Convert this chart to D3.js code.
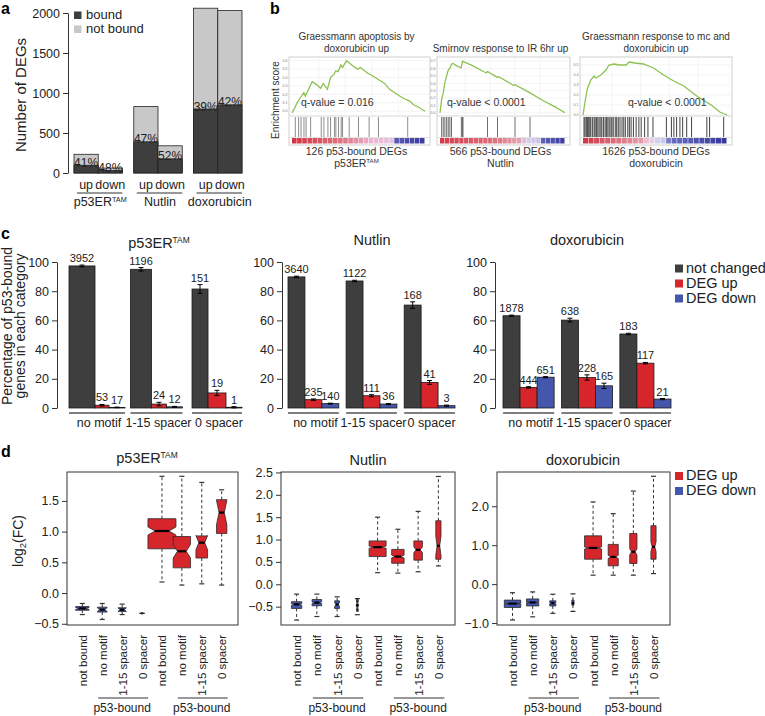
<!DOCTYPE html>
<html>
<head>
<meta charset="utf-8">
<script src="https://cdn.jsdelivr.net/npm/d3@7/dist/d3.min.js"></script>
<style>
html,body{margin:0;padding:0;background:#fff;}
svg{display:block;}
</style>
</head>
<body>
<svg id="fig" width="765" height="716"></svg>
<script>
// ================= DATA =================
// ---- Panel a ----
const aTreatments = ["p53ER", "Nutlin", "doxorubicin"];
const aDirections = ["up", "down"];
const aTotalDEGs = [234, 62, 830, 340, 2060, 2030];
const aBoundDEGs = [96, 30, 390, 177, 800, 852];
const aPctLabels = ["41%", "48%", "47%", "52%", "39%", "42%"];
const aTicks = [0, 500, 1000, 1500, 2000];
const aLegend = ["bound", "not bound"];

// ---- Panel b ----
const bTitles = [["Graessmann apoptosis by", "doxorubicin up"], ["Smirnov response to IR 6hr up"], ["Graessmann response to mc and", "doxorubicin up"]];
const bCaptionTop = ["126 p53-bound DEGs", "566 p53-bound DEGs", "1626 p53-bound DEGs"];
const bCaptionBottom = ["p53ER", "Nutlin", "doxorubicin"];
const bQValues = ["q-value = 0.016", "q-value < 0.0001", "q-value < 0.0001"];
const bEsTicks1 = [0, 0.1, 0.2, 0.3, 0.4, 0.5, 0.6];
const bEsTicks2 = [0, 0.1, 0.2, 0.3, 0.4, 0.5, 0.6, 0.7];
const bEsTicks3 = [0, 0.1, 0.2, 0.3, 0.4, 0.5];
const bEs1 = [[0,-0.02],[0.018,0.03],[0.038,0.10],[0.063,0.16],[0.089,0.22],[0.10,0.18],[0.127,0.27],[0.152,0.35],[0.19,0.31],[0.215,0.27],[0.235,0.33],[0.266,0.26],[0.29,0.40],[0.316,0.44],[0.33,0.48],[0.347,0.47],[0.367,0.55],[0.38,0.52],[0.41,0.60],[0.456,0.54],[0.494,0.50],[0.514,0.52],[0.57,0.45],[0.595,0.43],[0.646,0.38],[0.696,0.33],[0.734,0.26],[0.772,0.22],[0.81,0.18],[0.848,0.145],[0.886,0.12],[0.911,0.08],[0.949,0.05],[1.0,0.0]];
const bEs2 = [[0,0],[0.013,0.18],[0.026,0.27],[0.039,0.41],[0.053,0.50],[0.066,0.58],[0.08,0.61],[0.092,0.66],[0.105,0.67],[0.13,0.64],[0.17,0.61],[0.18,0.70],[0.26,0.64],[0.37,0.54],[0.38,0.56],[0.46,0.48],[0.47,0.49],[0.59,0.37],[0.60,0.38],[0.71,0.28],[0.82,0.17],[0.92,0.08],[1,0]];
const bEs3 = [[0,0],[0.014,0.13],[0.03,0.26],[0.054,0.35],[0.077,0.39],[0.09,0.37],[0.124,0.40],[0.16,0.45],[0.18,0.50],[0.217,0.51],[0.25,0.50],[0.3,0.50],[0.32,0.53],[0.36,0.52],[0.42,0.51],[0.49,0.47],[0.56,0.40],[0.63,0.34],[0.70,0.29],[0.79,0.19],[0.89,0.10],[0.95,0.03],[1,0]];
const bHits1 = [0.025,0.05,0.068,0.09,0.106,0.14,0.22,0.24,0.27,0.29,0.32,0.33,0.35,0.37,0.38,0.43,0.50,0.58,0.65,0.87];
const bHits2 = [0.013,0.026,0.039,0.053,0.066,0.079,0.092,0.171,0.179,0.184,0.38,0.46,0.60,0.72];
const bHits3 = [0.007,0.014,0.023,0.030,0.037,0.047,0.054,0.065,0.077,0.084,0.093,0.103,0.112,0.124,0.131,0.143,0.154,0.164,0.173,0.182,0.194,0.201,0.210,0.224,0.234,0.245,0.257,0.271,0.283,0.294,0.311,0.322,0.334,0.350,0.369,0.388,0.404,0.428,0.451,0.486,0.579,0.614,0.631,0.650,0.673,0.692,0.720,0.754,0.860,0.879,0.977];

// ---- Panel c ----
const cTreatments = ["p53ER", "Nutlin", "doxorubicin"];
const cCategories = ["no motif", "1-15 spacer", "0 spacer"];
const cSeries = ["not changed", "DEG up", "DEG down"];
const cTicks = [0, 20, 40, 60, 80, 100];
// per category: [not changed, DEG up, DEG down]
const cPctP53 = [[97.3, 1.9, 0.4], [95.0, 2.7, 0.8], [81.5, 10.3, 0.5]];
const cErrP53 = [[0.6, 0.5, 0.2], [1.2, 1.2, 0.3], [3.0, 1.8, 0.4]];
const cNP53 = [[3952, 53, 17], [1196, 24, 12], [151, 19, 1]];
const cPctNut = [[89.8, 5.7, 3.0], [87.0, 8.4, 2.7], [70.5, 17.5, 1.6]];
const cErrNut = [[0.5, 0.5, 0.3], [0.5, 0.7, 0.4], [2.2, 1.3, 0.4]];
const cNNut = [[3640, 235, 140], [1122, 111, 36], [168, 41, 3]];
const cPctDox = [[63.2, 14.1, 21.1], [60.2, 20.9, 15.2], [50.7, 30.7, 6.1]];
const cErrDox = [[0.4, 0.5, 0.4], [1.3, 1.8, 1.8], [0.5, 0.5, 0.4]];
const cNDox = [[1878, 444, 651], [638, 228, 165], [183, 117, 21]];

// ---- Panel d ----
const dBoxLabels = ["not bound", "no motif", "1-15 spacer", "0 spacer", "not bound", "no motif", "1-15 spacer", "0 spacer"];
const dBoxSeries = ["DEG down", "DEG down", "DEG down", "DEG down", "DEG up", "DEG up", "DEG up", "DEG up"];
// [lower whisker, Q1, median, Q3, upper whisker]
const dStatsP53 = [[-0.35,-0.28,-0.25,-0.22,-0.17],[-0.43,-0.31,-0.27,-0.23,-0.17],[-0.35,-0.30,-0.27,-0.24,-0.18],[-0.33,-0.33,-0.33,-0.33,-0.33],
                   [0.18,0.72,1.01,1.21,1.90],[0.13,0.41,0.68,0.92,1.90],[0.15,0.57,0.82,0.93,1.80],[0.13,0.97,1.31,1.52,1.68]];
const dNP53 = [32, 17, 12, 1, 138, 53, 24, 19];
const dStatsNut = [[-0.80,-0.54,-0.45,-0.39,-0.22],[-0.72,-0.48,-0.41,-0.34,-0.22],[-0.72,-0.54,-0.45,-0.37,-0.28],[-0.68,-0.55,-0.47,-0.40,-0.32],
                   [0.26,0.62,0.83,0.97,1.50],[0.25,0.47,0.62,0.78,1.23],[0.28,0.54,0.77,0.97,1.63],[0.41,0.56,0.86,1.42,2.41]];
const dNNut = [162, 140, 36, 3, 440, 235, 111, 41];
const dStatsDox = [[-0.92,-0.60,-0.50,-0.41,-0.22],[-0.84,-0.56,-0.47,-0.38,-0.20],[-0.75,-0.56,-0.49,-0.43,-0.26],[-0.70,-0.54,-0.49,-0.41,-0.25],
                   [0.23,0.64,0.93,1.24,2.11],[0.23,0.47,0.70,1.02,1.81],[0.23,0.53,0.83,1.30,2.39],[0.27,0.64,0.96,1.50,2.77]];
const dNDox = [1180, 651, 165, 21, 1260, 444, 228, 117];
const dTicksP53 = [-0.5, 0, 0.5, 1, 1.5];
const dTicksNut = [-0.5, 0, 0.5, 1, 1.5, 2, 2.5];
const dTicksDox = [-1, 0, 1, 2];

// ================= DRAWING =================
const FONT = '"Liberation Sans", Arial, Helvetica, sans-serif';
const INK = "#222";
const DARK = "#3e3e3e", LIGHT = "#c8c8c8", RED = "#d6262c", BLUE = "#4556ad";
const svg = d3.select("#fig").attr("font-family", FONT);

function label(g, x, y, s, size, anchor, extra) {
  const t = g.append("text").attr("x", x).attr("y", y).attr("font-size", size)
    .attr("text-anchor", anchor || "start").attr("fill", INK).text(s);
  if (extra) extra(t);
  return t;
}
function treatText(sel, name, size) {
  if (name === "p53ER") {
    sel.append("tspan").text("p53ER");
    sel.append("tspan").attr("font-size", size * 0.58).attr("dy", -size * 0.36).text("TAM");
  } else sel.text(name);
}
function letter(s, x, y) {
  svg.append("text").attr("x", x).attr("y", y).attr("font-size", 16).attr("font-weight", "bold").attr("fill", "#000").text(s);
}
function rAxis(g, x, scale, ticks, fmt, size, domain) {
  const ax = g.append("g").attr("transform", `translate(${x},0)`)
    .call(d3.axisLeft(scale).tickValues(ticks).tickFormat(fmt).tickSize(5).tickPadding(3).tickSizeOuter(0));
  ax.attr("font-family", FONT).attr("font-size", size);
  ax.selectAll("text").attr("fill", INK);
  ax.selectAll("line").attr("stroke", "#333");
  if (domain) ax.select(".domain").attr("stroke", "#333");
  else ax.select(".domain").remove();
  return ax;
}

// ---------- Panel a ----------
(function () {
  const g = svg.append("g");
  letter("a", 1, 14);
  const y = d3.scaleLinear().domain([0, 2000]).range([173, 13]);
  const gx = d3.scaleBand().domain(aTreatments).range([74, 242]).paddingInner(0.19);
  const dx = d3.scaleBand().domain(aDirections).range([0, gx.bandwidth()]);
  rAxis(g, 68, y, aTicks, d3.format("d"), 12.5, true);
  g.append("text").attr("transform", "translate(26,95) rotate(-90)").attr("text-anchor", "middle")
    .attr("font-size", 15).attr("fill", INK).text("Number of DEGs");
  aTreatments.forEach((t, gi) => {
    aDirections.forEach((d, di) => {
      const i = gi * 2 + di;
      const x = gx(t) + dx(d), w = dx.bandwidth();
      g.append("rect").attr("x", x).attr("y", y(aTotalDEGs[i])).attr("width", w)
        .attr("height", y(0) - y(aTotalDEGs[i])).attr("fill", LIGHT).attr("stroke", "#222").attr("stroke-width", 0.8);
      g.append("rect").attr("x", x).attr("y", y(aBoundDEGs[i])).attr("width", w)
        .attr("height", y(0) - y(aBoundDEGs[i])).attr("fill", DARK).attr("stroke", "#222").attr("stroke-width", 0.8);
      label(g, x + w / 2, y(aBoundDEGs[i]) + 1.5, aPctLabels[i], 12, "middle");
      label(g, x + w / 2, 189, d, 12.5, "middle");
    });
    g.append("line").attr("x1", gx(t) + 3).attr("x2", gx(t) + gx.bandwidth()).attr("y1", 193).attr("y2", 193)
      .attr("stroke", "#333").attr("stroke-width", 1.2);
    const tt = g.append("text").attr("x", gx(t) + gx.bandwidth() / 2 + 2).attr("y", 206).attr("font-size", 12.5)
      .attr("text-anchor", "middle").attr("fill", INK);
    treatText(tt, t, 12.5);
  });
  [DARK, LIGHT].forEach((c, i) => {
    g.append("rect").attr("x", 74).attr("y", 11.5 + i * 14).attr("width", 7.5).attr("height", 7.5).attr("fill", c);
    label(g, 86, 19 + i * 14, aLegend[i], 13);
  });
})();

// ---------- Panel b ----------
(function () {
  const g = svg.append("g");
  letter("b", 270, 14);
  const frames = [[289, 430], [437, 570], [580, 732]];
  const esData = [bEs1, bEs2, bEs3];
  const hits = [bHits1, bHits2, bHits3];
  const esTicks = [bEsTicks1, bEsTicks2, bEsTicks3];
  const esDomain = [[-0.045, 0.62], [-0.03, 0.73], [0.0, 0.56]];
  const hitColors = ["#7a7a7a", "#555", "#222"];
  const stripStops = [
    [[0, 0.41, 0.61, 0.76, 0.77, 1], ["#d2323f", "#e07a88", "#ebb9d2", "#e5c4df", "#5a5ab4", "#39399f"]],
    [[0, 0.45, 0.66, 0.68, 0.79, 0.80, 1], ["#d43a48", "#df7382", "#e7a7b5", "#d8d0ea", "#c8c4e4", "#5f66ba", "#3a3aa0"]],
    [[0, 0.2, 0.42, 0.45, 0.5, 0.58, 0.6, 1], ["#cf3442", "#dc6676", "#e6a0b0", "#f0cada", "#d8d2ec", "#c8c6e6", "#6a70c0", "#34349c"]]
  ];
  const top = 57, esBot = 115, bcTop = 117, bcBot = 137, stTop = 138, stBot = 143.5, bottom = 145;
  g.append("text").attr("transform", "translate(279,100) rotate(-90)").attr("text-anchor", "middle")
    .attr("font-size", 10).attr("fill", "#333").text("Enrichment score");
  frames.forEach((f, p) => {
    const [x0, x1] = f;
    const x = d3.scaleLinear().domain([0, 1]).range([x0 + 3, x1 - 5]);
    const y = d3.scaleLinear().domain(esDomain[p]).range([esBot, top + 2]);
    g.append("rect").attr("x", x0).attr("y", top).attr("width", x1 - x0).attr("height", bottom - top)
      .attr("fill", "#fff").attr("stroke", "#d0d0d0").attr("stroke-width", 1);
    esTicks[p].forEach(v => g.append("line").attr("x1", x0).attr("x2", x1).attr("y1", y(v)).attr("y2", y(v))
      .attr("stroke", "#ececec").attr("stroke-width", 0.6));
    [0.2, 0.4, 0.6, 0.8].forEach(v => g.append("line").attr("x1", x(v)).attr("x2", x(v)).attr("y1", top).attr("y2", esBot)
      .attr("stroke", "#ececec").attr("stroke-width", 0.6));
    g.append("line").attr("x1", x0).attr("x2", x1).attr("y1", esBot + 1).attr("y2", esBot + 1).attr("stroke", "#d6d6d6");
    g.append("line").attr("x1", x0).attr("x2", x1).attr("y1", bcBot + 0.5).attr("y2", bcBot + 0.5).attr("stroke", "#e2e2e2");
    esTicks[p].forEach(v => g.append("text").attr("x", x0 - 1.5).attr("y", y(v) + 1.2).attr("font-size", 3.6)
      .attr("text-anchor", "end").attr("fill", "#777").text(v.toFixed(1)));
    g.append("path").datum(esData[p]).attr("fill", "none").attr("stroke", "#8dc152").attr("stroke-width", 1.3)
      .attr("d", d3.line().x(d => x(d[0])).y(d => y(d[1])));
    hits[p].forEach(h => g.append("line").attr("x1", x(h)).attr("x2", x(h)).attr("y1", bcTop).attr("y2", bcBot)
      .attr("stroke", hitColors[p]).attr("stroke-width", 1).attr("opacity", 0.85));
    const sc = d3.scaleLinear().domain(stripStops[p][0]).range(stripStops[p][1]);
    const nB = 26, bw = (x(1) - x(0)) / nB;
    for (let k = 0; k < nB; k++) {
      g.append("rect").attr("x", x(0) + k * bw).attr("y", stTop).attr("width", bw - 0.5).attr("height", stBot - stTop)
        .attr("fill", sc((k + 0.5) / nB));
    }
    label(g, x(0) + (p === 0 ? 9 : 7) + (p === 2 ? 38 : 0), 106, bQValues[p], 10.5, "start", t => t.attr("fill", "#333"));
    const cx = (x0 + x1) / 2 + (p === 2 ? 0 : -3);
    const tl = bTitles[p];
    tl.forEach((s, k) => label(g, cx, tl.length === 2 ? 40 + k * 12 : 52, s, 10, "middle", t => t.attr("fill", "#333")));
    label(g, cx, 155, bCaptionTop[p], 10.5, "middle", t => t.attr("fill", "#333"));
    const ct = g.append("text").attr("x", cx).attr("y", 167).attr("font-size", 10.5).attr("text-anchor", "middle").attr("fill", "#333");
    treatText(ct, bCaptionBottom[p], 10.5);
  });
})();

// ---------- Panel c ----------
(function () {
  const g = svg.append("g");
  letter("c", 1, 239);
  const y = d3.scaleLinear().domain([0, 100]).range([408, 262]);
  const ranges = [[69, 247], [288, 455], [503, 671]];
  const pads = [0.106, 0.125, 0.125];
  // bar widths (px) inside each category group; first panel's groups are unevenly split in the figure
  const barWidths = [[[26, 14, 16], [21, 15, 16], [16, 18, 16]], null, null];
  const axisX = [57, 282, 495];
  const titleX = [159, 372, 587];
  const titleY = [248, 245, 245];
  const pcts = [cPctP53, cPctNut, cPctDox], errs = [cErrP53, cErrNut, cErrDox], ns = [cNP53, cNNut, cNDox];
  const colors = [DARK, RED, BLUE];
  g.append("text").attr("transform", "translate(11.5,326) rotate(-90)").attr("text-anchor", "middle")
    .attr("font-size", 14).attr("fill", INK).text("Percentage of p53-bound");
  g.append("text").attr("transform", "translate(25,326) rotate(-90)").attr("text-anchor", "middle")
    .attr("font-size", 14).attr("fill", INK).text("genes in each category");
  cTreatments.forEach((t, p) => {
    rAxis(g, axisX[p], y, cTicks, d3.format("d"), 12.5, true);
    const tt = g.append("text").attr("x", titleX[p]).attr("y", titleY[p]).attr("font-size", 14.5)
      .attr("text-anchor", "middle").attr("fill", INK);
    treatText(tt, t, 14.5);
    const gx = d3.scaleBand().domain(cCategories).range(ranges[p]).paddingInner(pads[p]);
    const sx = d3.scaleBand().domain(cSeries).range([0, gx.bandwidth()]);
    cCategories.forEach((c, ci) => {
      let cum = 0;
      const bws = barWidths[p] ? barWidths[p][ci] : null;
      cSeries.forEach((s, si) => {
        const v = pcts[p][ci][si], e = errs[p][ci][si];
        const w = bws ? bws[si] : sx.bandwidth();
        const x = bws ? gx(c) + cum : gx(c) + sx(s);
        cum += w;
        g.append("rect").attr("x", x).attr("y", y(v)).attr("width", w).attr("height", y(0) - y(v))
          .attr("fill", colors[si]).attr("stroke", "#1a1a1a").attr("stroke-width", 0.8);
        const cx = x + w / 2;
        g.append("line").attr("x1", cx).attr("x2", cx).attr("y1", y(v - e)).attr("y2", y(v + e)).attr("stroke", "#000").attr("stroke-width", 1);
        [v - e, v + e].forEach(yy => g.append("line").attr("x1", cx - 2.5).attr("x2", cx + 2.5).attr("y1", y(yy)).attr("y2", y(yy))
          .attr("stroke", "#000").attr("stroke-width", 1));
        label(g, cx, y(v + e) - 3, String(ns[p][ci][si]), 11, "middle");
      });
      const gw = bws ? cum : gx.bandwidth();
      g.append("line").attr("x1", gx(c)).attr("x2", gx(c) + gw).attr("y1", 413).attr("y2", 413)
        .attr("stroke", "#555").attr("stroke-width", 1.6);
      label(g, gx(c) + gw / 2 + 2, 427, c, 12.5, "middle");
    });
  });
  colors.forEach((col, i) => {
    g.append("rect").attr("x", 675).attr("y", 264.5 + i * 15).attr("width", 8).attr("height", 8).attr("fill", col);
    label(g, 686, 272.5 + i * 15, cSeries[i], 14.5);
  });
})();

// ---------- Panel d ----------
(function () {
  const g = svg.append("g");
  letter("d", 1, 457);
  const boxes = [[67, 238], [281, 455], [497, 670]];
  const yDomains = [[-0.52, 1.97], [-0.91, 2.51], [-1.05, 2.88]];
  const stats = [dStatsP53, dStatsNut, dStatsDox], ns = [dNP53, dNNut, dNDox];
  const ticks = [dTicksP53, dTicksNut, dTicksDox];
  const maxW = [28, 17, 17];
  const titleX = [147, 368, 583];
  const titleY = [463, 465, 465];
  const names = ["p53ER", "Nutlin", "doxorubicin"];
  const fmt = v => (v < 0 ? "\u2212" : "") + Math.abs(v).toFixed(1);
  const ylab = g.append("text").attr("transform", "translate(23,541) rotate(-90)").attr("text-anchor", "middle")
    .attr("font-size", 14).attr("fill", INK);
  ylab.append("tspan").text("log");
  ylab.append("tspan").attr("font-size", 9.5).attr("dy", 3).text("2");
  ylab.append("tspan").attr("dy", -3).text("(FC)");
  boxes.forEach((b, p) => {
    const [x0, x1] = b;
    const y = d3.scaleLinear().domain(yDomains[p]).range([625, 472]);
    const x = d3.scaleLinear().domain([0.23, 8.82]).range([x0, x1]);
    const wS = d3.scaleSqrt().domain([0, d3.max(ns[p])]).range([0, maxW[p]]);
    g.append("rect").attr("x", x0).attr("y", 472).attr("width", x1 - x0).attr("height", 153)
      .attr("fill", "none").attr("stroke", "#333").attr("stroke-width", 1);
    rAxis(g, x0, y, ticks[p], fmt, 12.5, false);
    const tt = g.append("text").attr("x", titleX[p]).attr("y", titleY[p]).attr("font-size", 14.5)
      .attr("text-anchor", "middle").attr("fill", INK);
    treatText(tt, names[p], 14.5);
    stats[p].forEach((st, i) => {
      const [lo, q1, med, q3, hi] = st;
      const n = ns[p][i];
      const cx = x(i + 1), w = wS(n);
      const col = dBoxSeries[i] === "DEG up" ? RED : BLUE;
      const L = cx - w / 2, R = cx + w / 2, l2 = cx - w / 4, r2 = cx + w / 4;
      [[q3, hi], [q1, lo]].forEach(([a, bb]) => {
        g.append("line").attr("x1", cx).attr("x2", cx).attr("y1", y(a)).attr("y2", y(bb))
          .attr("stroke", "#333").attr("stroke-width", 1).attr("stroke-dasharray", "3,2.5");
        g.append("line").attr("x1", cx - 2.5).attr("x2", cx + 2.5).attr("y1", y(bb)).attr("y2", y(bb))
          .attr("stroke", "#333").attr("stroke-width", 1.2);
      });
      if (n <= 1) {
        g.append("circle").attr("cx", cx).attr("cy", y(med)).attr("r", 1.2).attr("fill", "#222");
        return;
      }
      const nh = 1.58 * (q3 - q1) / Math.sqrt(n);
      const pts = [[L, y(q1)], [L, y(med - nh)], [l2, y(med)], [L, y(med + nh)], [L, y(q3)],
                   [R, y(q3)], [R, y(med + nh)], [r2, y(med)], [R, y(med - nh)], [R, y(q1)]];
      g.append("polygon").attr("points", pts.map(d => d.join(",")).join(" "))
        .attr("fill", col).attr("stroke", "#2a2a2a").attr("stroke-width", 0.8);
      g.append("line").attr("x1", Math.min(l2, cx - 1.5)).attr("x2", Math.max(r2, cx + 1.5)).attr("y1", y(med)).attr("y2", y(med))
        .attr("stroke", "#000").attr("stroke-width", 2.2);
    });
    dBoxLabels.forEach((s, i) => {
      g.append("text").attr("transform", `translate(${x(i + 1) + 4.5},635) rotate(-90)`).attr("text-anchor", "end")
        .attr("font-size", 11.5).attr("fill", INK).text(s);
    });
    [[2, 4], [6, 8]].forEach(([a, bb]) => {
      g.append("line").attr("x1", x(a) - 4).attr("x2", x(bb) + 6).attr("y1", 698).attr("y2", 698)
        .attr("stroke", "#333").attr("stroke-width", 1);
      label(g, (x(a) + x(bb)) / 2, 712, "p53-bound", 12, "middle");
    });
  });
  [RED, BLUE].forEach((col, i) => {
    g.append("rect").attr("x", 675).attr("y", 472 + i * 15).attr("width", 8).attr("height", 8).attr("fill", col);
    label(g, 686, 480 + i * 15, ["DEG up", "DEG down"][i], 14.5);
  });
})();
</script>
</body>
</html>
